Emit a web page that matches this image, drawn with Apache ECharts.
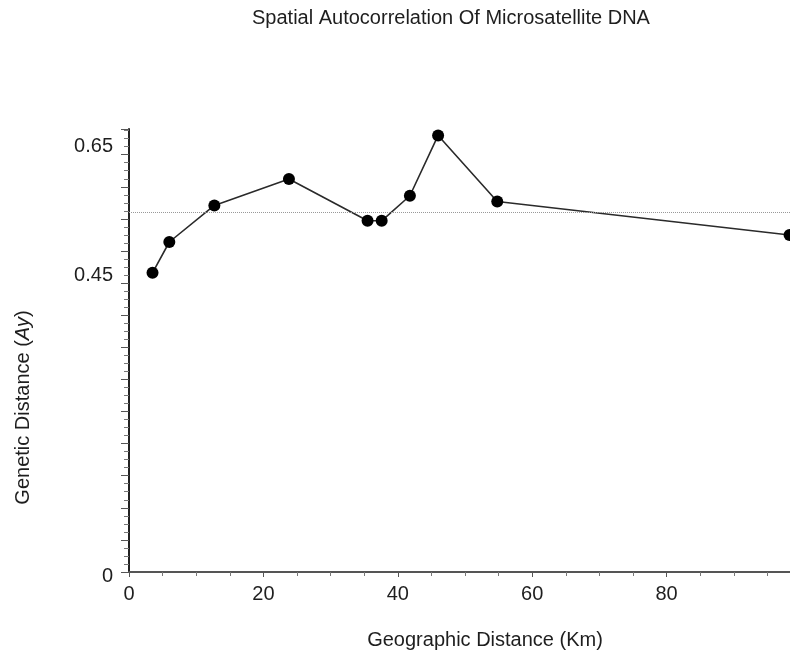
<!DOCTYPE html>
<html>
<head>
<meta charset="utf-8">
<title>Spatial Autocorrelation</title>
<script src="https://cdn.jsdelivr.net/npm/echarts@6/dist/echarts.min.js"></script>
<style>
  html, body { margin: 0; padding: 0; background: #fff; }
  #chart { width: 790px; height: 653px; }
</style>
</head>
<body>
<div id="chart"></div>
<script>
// distance classes (km) and genetic distance Ay
var distKm = [3.5, 6.0, 12.7, 23.8, 35.5, 37.6, 41.8, 46.0, 54.8, 98.3]
var genDist = [0.466, 0.514, 0.571, 0.612, 0.547, 0.547, 0.586, 0.680, 0.577, 0.525]
var meanAy = 0.564
var yLabels = [0, 0.45, 0.65]

var points = distKm.map(function (d, i) {
  return [d, genDist[i]]
})

var fontFam = '"Liberation Sans", Arial, sans-serif'
var txtColor = '#1e1e1e'

var chart = echarts.init(document.getElementById('chart'))
chart.setOption({
  animation: false,
  title: {
    text: 'Spatial Autocorrelation Of Microsatellite DNA',
    left: 252,
    top: 8,
    padding: 0,
    textStyle: { fontFamily: fontFam, fontSize: 20, fontWeight: 'normal', color: txtColor }
  },
  grid: {
    left: 129,
    top: 129,
    width: 672,
    height: 443,
    containLabel: false,
    outerBoundsMode: 'none' // let the plot run past the right edge
  },
  xAxis: {
    type: 'value',
    min: 0,
    max: 100,
    interval: 20,
    name: 'Geographic Distance (Km)',
    nameLocation: 'middle',
    nameGap: 58,
    nameTextStyle: { fontFamily: fontFam, fontSize: 20, color: txtColor, padding: [0, 0, 0, 40] },
    axisLine: { lineStyle: { color: '#555', width: 2 } },
    axisTick: { show: true, length: 5, lineStyle: { color: '#555' } },
    minorTick: { show: true, splitNumber: 4, length: 4, lineStyle: { color: '#777' } },
    splitLine: { show: false },
    axisLabel: {
      fontFamily: fontFam, fontSize: 20, color: txtColor, margin: 12,
      formatter: function (v) {
        return v >= 100 ? '' : String(v) // 100 falls off the picture
      }
    }
  },
  yAxis: {
    type: 'value',
    min: 0,
    max: 0.69,
    interval: 0.05,
    name: 'Genetic Distance ({i|Ay})',
    nameLocation: 'middle',
    nameGap: 96,
    nameTextStyle: {
      fontFamily: fontFam, fontSize: 20, color: txtColor,
      padding: [0, 114, 0, 0],
      rich: { i: { fontFamily: fontFam, fontSize: 20, fontStyle: 'italic', color: txtColor } }
    },
    axisLine: { show: true, lineStyle: { color: '#222', width: 2 } },
    axisTick: { show: true, length: 8, lineStyle: { color: '#555' } },
    minorTick: { show: true, splitNumber: 4, length: 5, lineStyle: { color: '#777' } },
    splitLine: { show: false },
    axisLabel: {
      margin: 16,
      formatter: function (v) {
        var r = Math.round(v * 100) / 100
        if (yLabels.indexOf(r) < 0) return ''
        if (r === 0) return '{z|0}'
        return '{a|' + r.toFixed(2) + '}'
      },
      rich: {
        a: { fontFamily: fontFam, fontSize: 20, color: txtColor, padding: [0, 0, 16, 0] },
        z: { fontFamily: fontFam, fontSize: 20, color: txtColor, padding: [8, 0, 0, 0] }
      }
    }
  },
  series: [
    {
      type: 'line',
      data: points,
      symbol: 'circle',
      symbolSize: 12,
      itemStyle: { color: '#000' },
      lineStyle: { color: '#2a2a2a', width: 1.6 },
      markLine: {
        silent: true,
        symbol: 'none',
        label: { show: false },
        lineStyle: { color: '#999', type: 'dotted', width: 1 },
        data: [{ yAxis: meanAy }]
      }
    }
  ]
})
</script>
</body>
</html>
